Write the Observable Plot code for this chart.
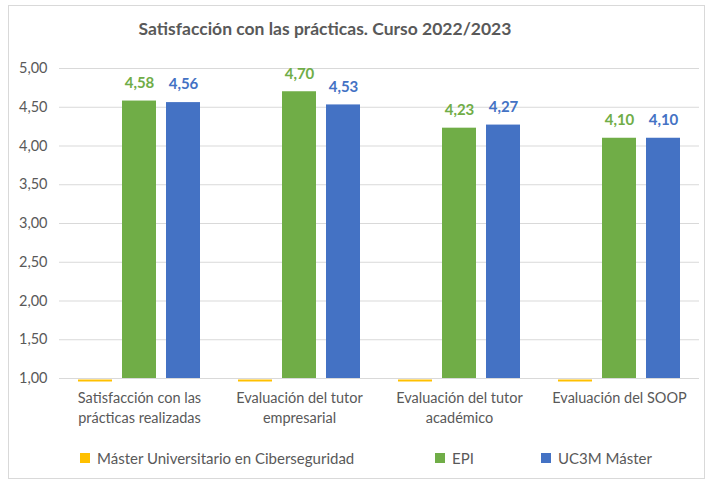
<!DOCTYPE html>
<html><head><meta charset="utf-8">
<script src="https://cdn.jsdelivr.net/npm/d3@7"></script>
<script src="https://cdn.jsdelivr.net/npm/@observablehq/plot@0.6"></script>
<style>
body{margin:0;background:#fff;font-family:Lato,"Open Sans",sans-serif;}
#wrap{position:relative;width:713px;height:482px;overflow:hidden;}
#frame{position:absolute;left:8px;top:5px;width:697px;height:474px;border:1px solid #D9D9D9;box-sizing:border-box;}
#title{position:absolute;top:18px;left:0;width:650px;text-align:center;font-weight:bold;font-size:17.5px;color:#595959;}
#chart{position:absolute;left:0;top:0;}
.leg{position:absolute;top:449px;font-size:15px;color:#595959;display:flex;align-items:center;white-space:nowrap;}
.leg span.sw{display:inline-block;width:10px;height:10px;margin-right:7px;}
</style></head>
<body>
<div id="wrap">
<div id="frame"></div>
<div id="chart"></div>
<div id="title">Satisfacción con las prácticas. Curso 2022/2023</div>
<div class="leg" style="left:80px"><span class="sw" style="background:#FFC000"></span>Máster Universitario en Ciberseguridad</div>
<div class="leg" style="left:435px"><span class="sw" style="background:#70AD47"></span>EPI</div>
<div class="leg" style="left:541px"><span class="sw" style="background:#4472C4"></span>UC3M Máster</div>
</div>
<script>
const categories = ["Satisfacción con las\nprácticas realizadas","Evaluación del tutor\nempresarial","Evaluación del tutor\nacadémico","Evaluación del SOOP"];
const series = ["Máster Universitario en Ciberseguridad","EPI","UC3M Máster"];
const colors = ["#FFC000","#70AD47","#4472C4"];
const masterCiber = [0,0,0,0];
const epi = [4.58,4.70,4.23,4.10];
const uc3m = [4.56,4.53,4.27,4.10];
const yTicks = [1,1.5,2,2.5,3,3.5,4,4.5,5];

const values = [masterCiber, epi, uc3m];
const data = [];
categories.forEach((c,i)=>series.forEach((s,j)=>data.push({cat:c,series:s,value:values[j][i]})));
const fmt = v => v.toFixed(2).replace(".",",");
const bars = data.filter(d=>d.series!==series[0]);
const zeros = data.filter(d=>d.series===series[0]);

const chart = Plot.plot({
  width:713, height:432,
  marginLeft:58, marginRight:13, marginTop:68, marginBottom:54,
  style:{fontFamily:"Lato, 'Open Sans', sans-serif", color:"#595959", background:"transparent"},
  fx:{domain:categories, padding:0, label:null},
  x:{domain:series, paddingInner:0.22, paddingOuter:0.39, axis:null},
  y:{domain:[1,5], label:null},
  color:{domain:series, range:colors},
  marks:[
    Plot.gridY(yTicks,{stroke:"#D9D9D9", strokeOpacity:1, strokeWidth:1}),
    Plot.axisY(yTicks,{tickSize:0, tickPadding:12, tickFormat:fmt, fontSize:14.5, fill:"#595959", label:null}),
    Plot.axisFx({anchor:"bottom", tickSize:0, tickPadding:10, fontSize:14.5, lineHeight:1.4, fill:"#595959", label:null}),
    Plot.barY(bars,{fx:"cat", x:"series", y1:1, y2:"value", fill:"series"}),
    Plot.tickY(zeros,{fx:"cat", x:"series", y:d=>Math.max(d.value,1), dy:2, stroke:"series", strokeWidth:2}),
    Plot.text(bars,{fx:"cat", x:"series", y:"value", text:d=>fmt(d.value), dy:-18, fill:"series", fontWeight:"bold", fontSize:15})
  ]
});
document.getElementById("chart").appendChild(chart);
</script>
</body></html>
